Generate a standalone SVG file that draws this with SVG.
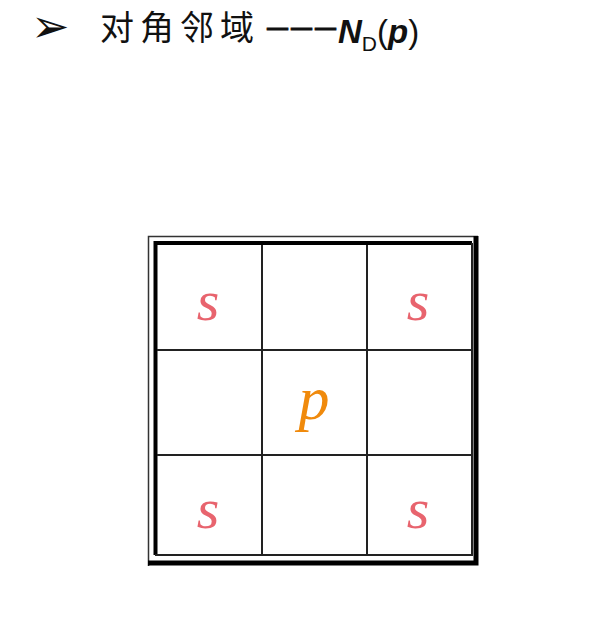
<svg xmlns="http://www.w3.org/2000/svg" width="591" height="640" viewBox="0 0 591 640">
<style>
.t{font-family:"Noto Sans CJK SC","Liberation Sans",sans-serif;font-size:34px;fill:#111;letter-spacing:6px}
.s{font-style:italic;font-size:58px;fill:#e8646e}
.p{font-style:italic;font-size:62px;fill:#f08a0c}
.g{stroke:#222;stroke-width:2;fill:none}
</style>
<rect width="591" height="640" fill="#fff"/>
<g id="title">
<text x="31" y="42" style="font-family:'DejaVu Sans',sans-serif;font-size:46px;fill:#111">➢</text>
<text class="t" x="100" y="40">对角邻域</text>
<text x="267" y="34" style="font-family:'Liberation Sans',sans-serif;font-weight:bold;font-size:21px;fill:#111;stroke:#111;stroke-width:0.8;letter-spacing:3px">———</text>
<text x="338" y="43" style="font-family:'Liberation Sans',sans-serif;font-size:33px;fill:#111"><tspan font-style="italic" font-weight="bold">N</tspan><tspan font-size="21" dy="8">D</tspan><tspan dy="-8">(</tspan><tspan font-style="italic" font-weight="bold">p</tspan>)</text>
</g>
<g id="grid">
<path d="M148.5 566 V236.5 H478" stroke="#333" stroke-width="1.5" fill="none"/>
<path d="M476 236 V563 H148" stroke="#000" stroke-width="5" fill="none"/>
<path d="M155.5 555 V243 H472" stroke="#000" stroke-width="4" fill="none"/>
<path d="M472 243 V555 H155" stroke="#222" stroke-width="2" fill="none"/>
<path class="g" d="M262 245V555M367 245V555M157 350H472M157 455H472"/>
</g>
<g id="c11"><text class="s" font-family="Liberation Serif, serif" x="208" y="320" text-anchor="middle">s</text></g>
<g id="c13"><text class="s" font-family="Liberation Serif, serif" x="418" y="320" text-anchor="middle">s</text></g>
<g id="c22"><text class="p" font-family="Liberation Serif, serif" x="314" y="419" text-anchor="middle">p</text></g>
<g id="c31"><text class="s" font-family="Liberation Serif, serif" x="208" y="528" text-anchor="middle">s</text></g>
<g id="c33"><text class="s" font-family="Liberation Serif, serif" x="418" y="528" text-anchor="middle">s</text></g>
</svg>
